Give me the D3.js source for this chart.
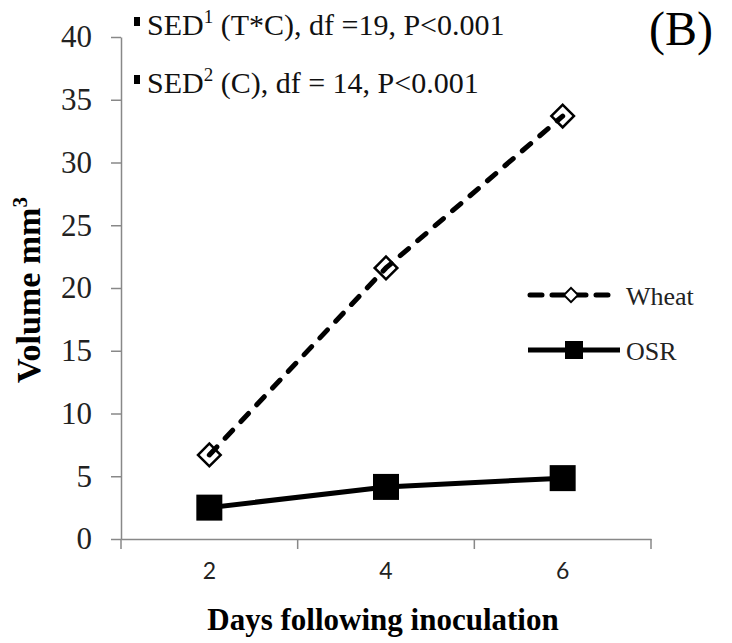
<!DOCTYPE html>
<html>
<head>
<meta charset="utf-8">
<script src="https://cdn.jsdelivr.net/npm/d3@7"></script>
<style>
  body { margin: 0; background: #fff; }
  svg { display: block; }
</style>
</head>
<body>
<svg id="chart"></svg>
<script>
// values
var days = ["2", "4", "6"];
var wheat = [6.7, 21.6, 33.7];
var osr = [2.5, 4.15, 4.85];
var yTicks = [0, 5, 10, 15, 20, 25, 30, 35, 40];
var seriesNames = ["Wheat", "OSR"];
var notes = [
    {sup: "1", rest: " (T*C), df =19, P<0.001"},
    {sup: "2", rest: " (C), df = 14, P<0.001"}
];

var width = 732, height = 643;
var serif = "Liberation Serif, Times New Roman, serif";
var axisColor = "#888";

var svg = d3.select("#chart")
    .attr("width", width)
    .attr("height", height);

var x = d3.scaleBand()
    .domain(days)
    .range([121, 651])
    .padding(0);

var y = d3.scaleLinear()
    .domain([0, 40])
    .range([539, 37]);

// y axis
var yAxis = svg.append("g")
    .attr("transform", "translate(121,0)")
    .call(d3.axisLeft(y).tickValues(yTicks).tickSize(10).tickSizeOuter(0).tickPadding(19))
    .attr("font-family", serif)
    .attr("font-size", 31);
yAxis.select(".domain").attr("stroke", axisColor).attr("stroke-width", 1.5);
yAxis.selectAll(".tick line").attr("stroke", axisColor).attr("stroke-width", 1.5);
yAxis.selectAll(".tick text")
    .attr("fill", "#222")
    .attr("font-family", serif);

// x axis: labels at band centres, ticks on band edges
var xAxis = svg.append("g")
    .attr("transform", "translate(0,539)")
    .call(d3.axisBottom(x).tickSize(0).tickSizeOuter(0).tickPadding(24))
    .attr("font-family", "Lato, Open Sans, sans-serif")
    .attr("font-size", 23);
xAxis.select(".domain").attr("stroke", axisColor).attr("stroke-width", 1.5);
xAxis.selectAll(".tick text").attr("fill", "#222");

var edges = days.map(d => x(d)).concat([x.range()[1]]);
xAxis.selectAll(".edge")
    .data(edges)
    .join("line")
    .attr("class", "edge")
    .attr("x1", d => d).attr("x2", d => d)
    .attr("y1", 0).attr("y2", 10)
    .attr("stroke", axisColor)
    .attr("stroke-width", 1.5);

// axis titles
svg.append("text")
    .attr("x", 383)
    .attr("y", 630)
    .attr("text-anchor", "middle")
    .attr("font-family", serif)
    .attr("font-weight", "bold")
    .attr("font-size", 31)
    .text("Days following inoculation");

var yTitle = svg.append("text")
    .attr("transform", "translate(40,290) rotate(-90)")
    .attr("text-anchor", "middle")
    .attr("font-family", serif)
    .attr("font-weight", "bold")
    .attr("font-size", 34);
yTitle.append("tspan").text("Volume mm");
yTitle.append("tspan").attr("dy", -13).attr("font-size", 21).text("3");

// lines
var line = d3.line()
    .x((d, i) => x(days[i]) + x.bandwidth() / 2)
    .y(d => y(d));

var sq = d3.symbol().type(d3.symbolSquare);

// wheat: open diamonds under a dashed line
svg.append("g")
    .selectAll("path")
    .data(wheat)
    .join("path")
    .attr("d", sq.size(16 * 16))
    .attr("transform", (d, i) => "translate(" + (x(days[i]) + x.bandwidth() / 2) + "," + y(d) + ") rotate(45)")
    .attr("fill", "#fff")
    .attr("stroke", "#000")
    .attr("stroke-width", 2.5);

svg.append("path")
    .datum(wheat)
    .attr("d", line)
    .attr("fill", "none")
    .attr("stroke", "#000")
    .attr("stroke-width", 5)
    .attr("stroke-linecap", "round")
    .attr("stroke-dasharray", "11,12");

// OSR: solid line with filled squares
svg.append("path")
    .datum(osr)
    .attr("d", line)
    .attr("fill", "none")
    .attr("stroke", "#000")
    .attr("stroke-width", 5);

svg.append("g")
    .selectAll("path")
    .data(osr)
    .join("path")
    .attr("d", sq.size(26 * 26))
    .attr("transform", (d, i) => "translate(" + (x(days[i]) + x.bandwidth() / 2) + "," + y(d) + ")")
    .attr("fill", "#000");

// legend
var legend = svg.append("g");
var legY = [295, 350];

legend.append("line")
    .attr("x1", 530).attr("x2", 618)
    .attr("y1", legY[0]).attr("y2", legY[0])
    .attr("stroke", "#000")
    .attr("stroke-width", 5)
    .attr("stroke-linecap", "round")
    .attr("stroke-dasharray", "12,10");
legend.append("path")
    .attr("d", d3.symbol().type(d3.symbolSquare).size(10 * 10))
    .attr("transform", "translate(571," + legY[0] + ") rotate(45)")
    .attr("fill", "#fff")
    .attr("stroke", "#000")
    .attr("stroke-width", 2);

legend.append("line")
    .attr("x1", 528).attr("x2", 620)
    .attr("y1", legY[1]).attr("y2", legY[1])
    .attr("stroke", "#000")
    .attr("stroke-width", 5);
legend.append("path")
    .attr("d", d3.symbol().type(d3.symbolSquare).size(18 * 18))
    .attr("transform", "translate(574," + legY[1] + ")")
    .attr("fill", "#000");

legend.selectAll("text")
    .data(seriesNames)
    .join("text")
    .attr("x", 626)
    .attr("y", (d, i) => legY[i] + 10)
    .attr("fill", "#222")
    .attr("font-family", serif)
    .attr("font-size", 26)
    .text(d => d);

// SED notes
var noteY = [35, 93];
svg.append("g")
    .selectAll("rect")
    .data(notes)
    .join("rect")
    .attr("x", 134)
    .attr("y", (d, i) => noteY[i] - 18)
    .attr("width", 6)
    .attr("height", 9)
    .attr("fill", "#000");

var noteText = svg.append("g")
    .selectAll("text")
    .data(notes)
    .join("text")
    .attr("x", 147)
    .attr("y", (d, i) => noteY[i])
    .attr("font-family", serif)
    .attr("font-size", 30)
    .attr("fill", "#111");
noteText.append("tspan").text("SED");
noteText.append("tspan").attr("dy", -12).attr("font-size", 19).text(d => d.sup);
noteText.append("tspan").attr("dy", 12).text(d => d.rest);

// panel label
svg.append("text")
    .attr("x", 713)
    .attr("y", 45)
    .attr("text-anchor", "end")
    .attr("font-family", serif)
    .attr("font-size", 48)
    .text("(B)");
</script>
</body>
</html>
